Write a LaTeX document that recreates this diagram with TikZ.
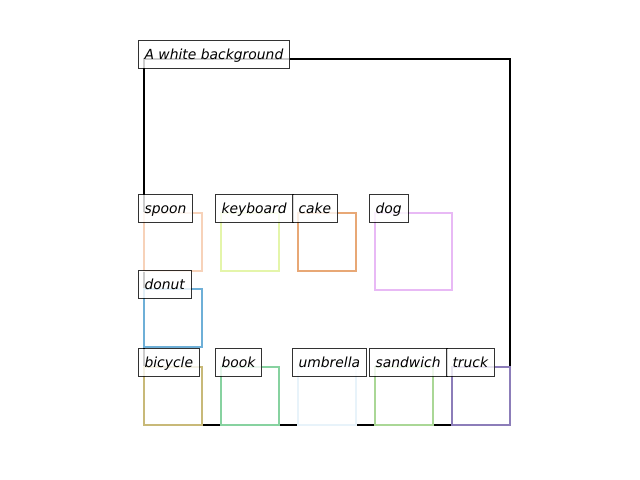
\documentclass[tikz,border=0pt]{standalone}
\usepackage{fontspec}
\setmainfont{DejaVu Sans}
\usepackage{xcolor}
\definecolor{spooncol}{RGB}{247,210,185}
\definecolor{keybcol}{RGB}{228,245,170}
\definecolor{cakecol}{RGB}{232,168,118}
\definecolor{dogcol}{RGB}{232,185,245}
\definecolor{donutcol}{RGB}{110,175,215}
\definecolor{bikecol}{RGB}{200,185,120}
\definecolor{bookcol}{RGB}{135,210,160}
\definecolor{umbrcol}{RGB}{232,243,250}
\definecolor{sandcol}{RGB}{170,215,150}
\definecolor{truckcol}{RGB}{140,125,185}

\begin{document}
\begin{tikzpicture}[x=0.72pt,y=-0.72pt,
	obj/.style={line width=1.44pt},
	lbl/.style={draw=black,draw opacity=0.8,fill=white,fill opacity=0.8,text opacity=1,
		line width=0.72pt,font=\itshape,anchor=base west,inner xsep=4.7pt,inner ysep=2.9pt,
		text height=10.1pt,text depth=3.6pt}]
	\useasboundingbox (0,0) rectangle (640,480);
	% frame
	\draw [line width=1.44pt] (144,59) rectangle (510,425);
	% objects
	\draw [obj,spooncol] (144,213) rectangle (202,271);
	\draw [obj,keybcol] (221,213) rectangle (279,271);
	\draw [obj,cakecol] (298,213) rectangle (356,271);
	\draw [obj,dogcol] (375,213) rectangle (452,290);
	\draw [obj,donutcol] (144,289) rectangle (202,347);
	\draw [obj,bikecol] (144,367) rectangle (202,425);
	\draw [obj,bookcol] (221,367) rectangle (279,425);
	\draw [obj,umbrcol] (298,367) rectangle (356,425);
	\draw [obj,sandcol] (375,367) rectangle (433,425);
	\draw [obj,truckcol] (452,367) rectangle (510,425);
	% labels
	\node (bg) at (137.5,59) [lbl] {A white background};
	\node (spoon) at (137.5,213) [lbl] {spoon};
	\node (keyboard) at (214.5,213) [lbl] {keyboard};
	\node (cake) at (291.5,213) [lbl] {cake};
	\node (dog) at (368.5,213) [lbl] {dog};
	\node (donut) at (137.5,289) [lbl] {donut};
	\node (bicycle) at (137.5,367) [lbl] {bicycle};
	\node (book) at (214.5,367) [lbl] {book};
	\node (umbrella) at (291.5,367) [lbl] {umbrella};
	\node (sandwich) at (368.5,367) [lbl] {sandwich};
	\node (truck) at (445.5,367) [lbl] {truck};
\end{tikzpicture}
\end{document}
